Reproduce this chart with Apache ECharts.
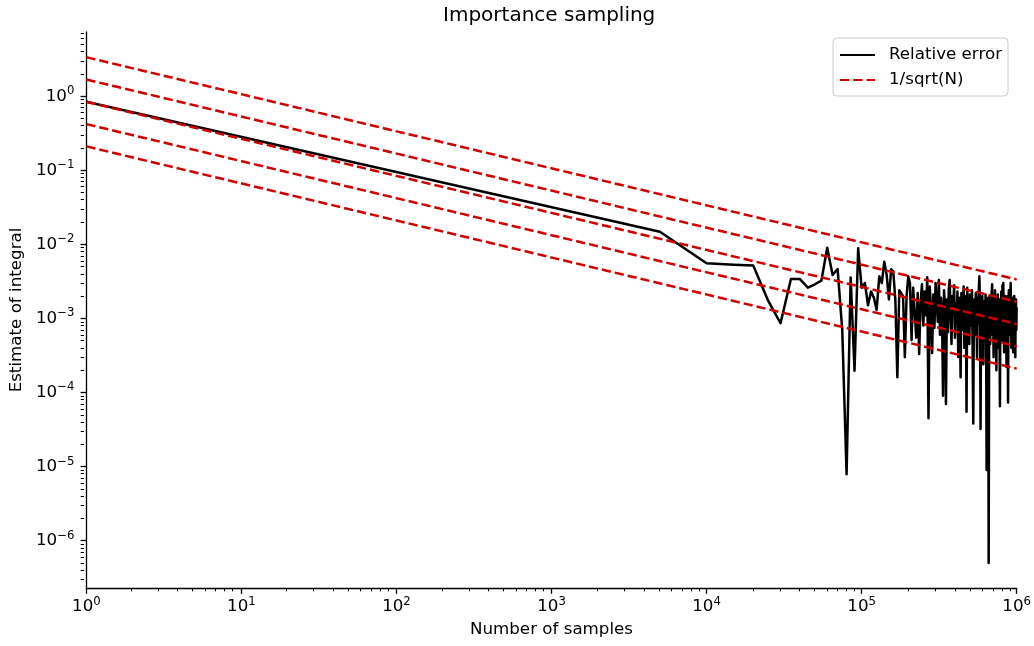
<!DOCTYPE html>
<html>
<head>
<meta charset="utf-8">
<script src="https://cdn.jsdelivr.net/npm/echarts@6/dist/echarts.min.js"></script>
<style>
html,body{margin:0;padding:0;background:#fff;}
#chart{width:1034px;height:646px;}
</style>
</head>
<body>
<div id="chart"></div>
<script>
// ---------- data ----------
const chartTitle = 'Importance sampling';
const xAxisTitle = 'Number of samples';
const yAxisTitle = 'Estimate of integral';
const errorName = 'Relative error';
const guideName = '1/sqrt(N)';

// number of samples (N)
const sampleN = [
  1, 5000, 10000, 15000, 20000, 25000, 30000, 35000, 40000, 45000,
  50000, 55000, 60000, 65000, 70000, 75000, 80000, 85000, 90000, 95000,
  100000, 105000, 110000, 115000, 120000, 125000, 130000, 135000, 140000, 145000,
  150000, 155000, 160000, 165000, 170000, 175000, 180000, 185000, 190000, 195000,
  200000, 205000, 210000, 215000, 220000, 225000, 230000, 235000, 240000, 245000,
  250000, 255000, 260000, 265000, 270000, 275000, 280000, 285000, 290000, 295000,
  300000, 305000, 310000, 315000, 320000, 325000, 330000, 335000, 340000, 345000,
  350000, 355000, 360000, 365000, 370000, 375000, 380000, 385000, 390000, 395000,
  400000, 405000, 410000, 415000, 420000, 425000, 430000, 435000, 440000, 445000,
  450000, 455000, 460000, 465000, 470000, 475000, 480000, 485000, 490000, 495000,
  500000, 505000, 510000, 515000, 520000, 525000, 530000, 535000, 540000, 545000,
  550000, 555000, 560000, 565000, 570000, 575000, 580000, 585000, 590000, 595000,
  600000, 605000, 610000, 615000, 620000, 625000, 630000, 635000, 640000, 645000,
  650000, 655000, 660000, 665000, 670000, 675000, 680000, 685000, 690000, 695000,
  700000, 705000, 710000, 715000, 720000, 725000, 730000, 735000, 740000, 745000,
  750000, 755000, 760000, 765000, 770000, 775000, 780000, 785000, 790000, 795000,
  800000, 805000, 810000, 815000, 820000, 825000, 830000, 835000, 840000, 845000,
  850000, 855000, 860000, 865000, 870000, 875000, 880000, 885000, 890000, 895000,
  900000, 905000, 910000, 915000, 920000, 925000, 930000, 935000, 940000, 945000,
  950000, 955000, 960000, 965000, 970000, 975000, 980000, 985000, 990000, 995000,
  1000000
];

// relative error
const relativeError = [
  0.84, 0.0148, 0.00555, 0.00532, 0.00516, 0.00172, 0.00086, 0.0034, 0.0034, 0.0026,
  0.00289, 0.00323, 0.0090, 0.00386, 0.00465, 0.0007, 0.0000079, 0.00356, 0.000196, 0.00884,
  0.0026, 0.0030, 0.0015, 0.0023, 0.0019, 0.0013, 0.0037, 0.0030, 0.0058, 0.0039,
  0.0018, 0.0046, 0.0043, 0.0018, 0.00016, 0.0024, 0.0022, 0.0020, 0.00030, 0.0020,
  0.0037, 0.0030, 0.00051, 0.0026, 0.0012, 0.00055, 0.0022, 0.00033, 0.0016, 0.0029,
  0.0008, 0.0023, 0.0011, 0.0036, 0.000045, 0.0027, 0.0014, 0.00034, 0.0021, 0.00075,
  0.0030, 0.0017, 0.0009, 0.0033, 0.0006, 0.0019, 0.0012, 0.00009, 0.0024, 0.0015,
  0.00007, 0.0018, 0.00065, 0.0025, 0.0033, 0.0010, 0.00045, 0.0020, 0.0013, 0.0028,
  0.00055, 0.0016, 0.0009, 0.0023, 0.00030, 0.0019, 0.0011, 0.00016, 0.0022, 0.0007,
  0.0015, 0.0027, 0.00040, 0.0012, 0.0020, 0.000055, 0.0026, 0.0010, 0.0017, 0.00045,
  0.0021, 0.0008, 0.0014, 0.0024, 0.00035, 0.000038, 0.0018, 0.0011, 0.0006, 0.0022,
  0.0013, 0.00030, 0.0019, 0.00085, 0.0025, 0.0037, 0.0012, 0.000032, 0.0015, 0.00065,
  0.0020, 0.0010, 0.00024, 0.0017, 0.0012, 0.00050, 0.0021, 0.0009, 0.000009, 0.0014,
  0.0007, 0.0019, 0.0000005, 0.0011, 0.0020, 0.00045, 0.0015, 0.0008, 0.0022, 0.0029,
  0.0006, 0.0013, 0.00030, 0.0018, 0.0010, 0.0024, 0.00055, 0.0014, 0.00020, 0.0016,
  0.0009, 0.0021, 0.00040, 0.0012, 0.0018, 0.0007, 0.000065, 0.0015, 0.0010, 0.0023,
  0.00050, 0.0013, 0.0028, 0.0008, 0.0030, 0.0011, 0.00035, 0.0017, 0.0009, 0.0020,
  0.00055, 0.0014, 0.00022, 0.0016, 0.0010, 0.0020, 0.000073, 0.0012, 0.0024, 0.0006,
  0.0015, 0.00085, 0.0020, 0.0030, 0.0011, 0.00040, 0.0016, 0.0008, 0.0019, 0.0012,
  0.00035, 0.0014, 0.0009, 0.0020, 0.0006, 0.0013, 0.00030, 0.0011, 0.0018, 0.0007,
  0.0014
];

// five reference 1/sqrt(N) lines: value at N = 1 and at N = 1e6
const guideN = [1, 1000000];
const guideStart = [0.21, 0.42, 0.84, 1.68, 3.36];
const guideEnd = [0.00021, 0.00042, 0.00084, 0.00168, 0.00336];

// axis ticks (decade exponents)
const xDecades = [0, 1, 2, 3, 4, 5, 6];
const yDecades = [-6, -5, -4, -3, -2, -1, 0];
const xRange = [1, 1000000];
const yRange = [2.29e-7, 7.36];

// ---------- build ----------
const lg = Math.log10;
const minorValues = (lo, hi) => {
  const out = [];
  for (let d = Math.floor(lo) - 1; d <= Math.ceil(hi); d++) {
    for (let k = 2; k <= 9; k++) {
      const v = d + lg(k);
      if (v > lo && v < hi) out.push(v);
    }
  }
  return out;
};
const xMin = lg(xRange[0]), xMax = lg(xRange[1]);
const yMin = lg(yRange[0]), yMax = lg(yRange[1]);

const supFmt = v => {
  const e = Math.round(v);
  const s = e < 0 ? '\u2212' + (-e) : String(e);
  return '{b|10}{s|' + s + '}';
};
const richLbl = {
  b: { fontFamily: 'DejaVu Sans', fontSize: 16.7, lineHeight: 22, color: '#000' },
  s: { fontFamily: 'DejaVu Sans', fontSize: 11.7, lineHeight: 11, verticalAlign: 'top', color: '#000' }
};

const seriesList = [];
seriesList.push({
  name: errorName,
  type: 'line',
  xAxisIndex: 0, yAxisIndex: 0,
  data: sampleN.map((n, i) => [lg(n), lg(relativeError[i])]),
  showSymbol: false, symbol: 'none',
  lineStyle: { color: '#000', width: 2.5, join: 'round' },
  itemStyle: { color: '#000' },
  z: 2, animation: false
});
guideStart.forEach((c, i) => {
  seriesList.push({
    name: guideName,
    type: 'line',
    xAxisIndex: 0, yAxisIndex: 0,
    data: [[lg(guideN[0]), lg(c)], [lg(guideN[1]), lg(guideEnd[i])]],
    showSymbol: false, symbol: 'none',
    lineStyle: { color: '#d00000', width: 2.5, type: [9.25, 4] },
    itemStyle: { color: '#d00000' },
    z: 3, animation: false
  });
});

const gridBox = { left: 84, right: 17, top: 32, bottom: 58, containLabel: false };
const nameFont = { fontFamily: 'DejaVu Sans', fontSize: 16.7, color: '#000' };

const option = {
  animation: false,
  backgroundColor: '#fff',
  textStyle: { fontFamily: 'DejaVu Sans' },
  title: {
    text: chartTitle, left: 438, top: 1,
    textStyle: { fontFamily: 'DejaVu Sans', fontSize: 20, fontWeight: 'normal', color: '#000' }
  },
  grid: [Object.assign({}, gridBox), Object.assign({}, gridBox)],
  legend: {
    orient: 'vertical', right: 26, top: 38,
    data: [errorName, guideName],
    itemWidth: 35, itemHeight: 20, itemGap: 5,
    padding: [7, 6, 6, 6],
    backgroundColor: 'rgba(255,255,255,0.8)',
    borderColor: '#cccccc', borderWidth: 1, borderRadius: 4,
    itemStyle: { opacity: 0 },
    textStyle: { fontFamily: 'DejaVu Sans', fontSize: 16.7, color: '#000', lineHeight: 20, padding: [0, 0, 0, 9] }
  },
  xAxis: [
    {
      gridIndex: 0, type: 'value', min: xMin, max: xMax, position: 'bottom',
      splitLine: { show: false },
      axisLine: { show: true, onZero: false, lineStyle: { color: '#000', width: 1.3 } },
      name: xAxisTitle, nameLocation: 'middle', nameGap: 33, nameTextStyle: nameFont,
      axisTick: { show: true, length: 5.8, lineStyle: { color: '#000', width: 1.3 }, customValues: xDecades },
      axisLabel: { show: true, margin: 8, formatter: supFmt, rich: richLbl, customValues: xDecades }
    },
    {
      gridIndex: 1, type: 'value', min: xMin, max: xMax, position: 'bottom',
      splitLine: { show: false },
      axisLine: { show: false, onZero: false },
      axisTick: { show: true, length: 3.3, lineStyle: { color: '#000', width: 1 }, customValues: minorValues(xMin, xMax) },
      axisLabel: { show: false }
    }
  ],
  yAxis: [
    {
      gridIndex: 0, type: 'value', min: yMin, max: yMax, position: 'left',
      splitLine: { show: false },
      axisLine: { show: true, onZero: false, lineStyle: { color: '#000', width: 1.3 } },
      name: yAxisTitle, nameLocation: 'middle', nameGap: 58, nameRotate: 90, nameTextStyle: nameFont,
      axisTick: { show: true, length: 5.8, lineStyle: { color: '#000', width: 1.3 }, customValues: yDecades },
      axisLabel: { show: true, margin: 12, formatter: supFmt, rich: richLbl, customValues: yDecades }
    },
    {
      gridIndex: 1, type: 'value', min: yMin, max: yMax, position: 'left',
      splitLine: { show: false },
      axisLine: { show: false, onZero: false },
      axisTick: { show: true, length: 3.3, lineStyle: { color: '#000', width: 1 }, customValues: minorValues(yMin, yMax) },
      axisLabel: { show: false }
    }
  ],
  series: seriesList
};

const chart = echarts.init(document.getElementById('chart'), null, { renderer: 'canvas' });
chart.setOption(option);
</script>
</body>
</html>
